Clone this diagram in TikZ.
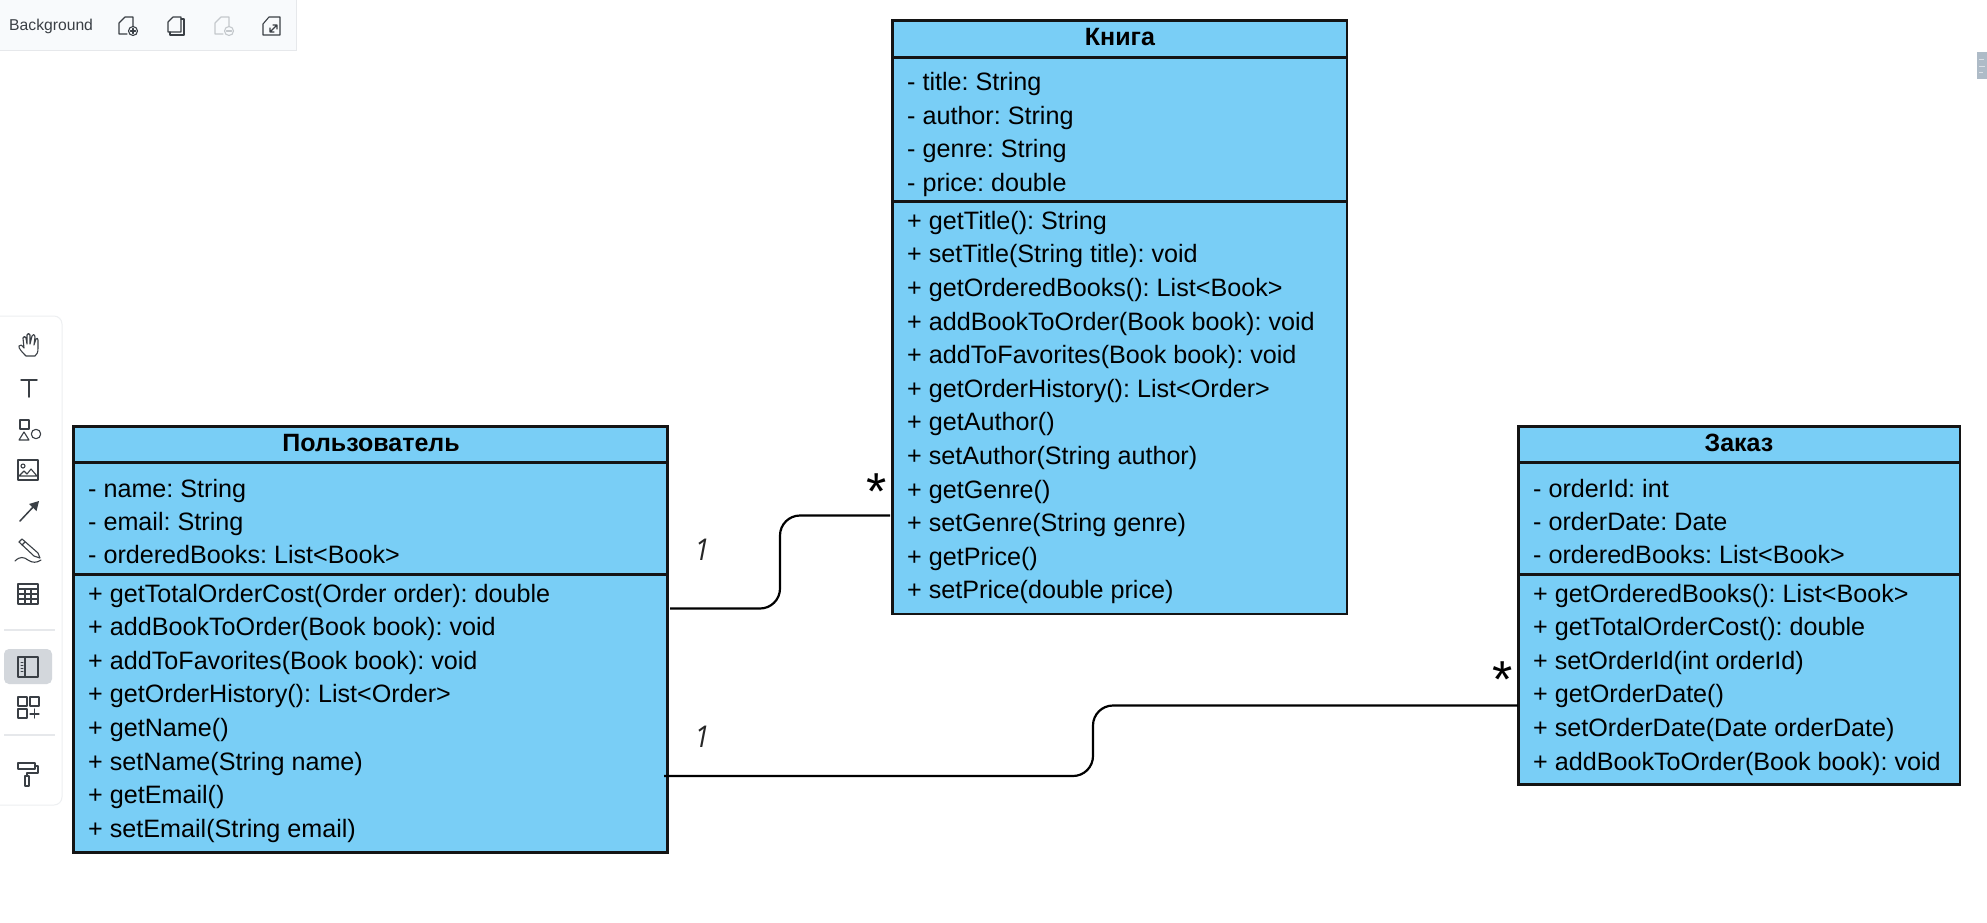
\documentclass[tikz,border=0pt]{standalone}
\usepackage{fontspec}
\setmainfont{Liberation Sans}
\newfontfamily\labelfont{Open Sans}
\frenchspacing
\definecolor{boxblue}{HTML}{79CEF6}
\definecolor{boxline}{HTML}{141414}
\definecolor{panelbg}{HTML}{F8FAFC}
\definecolor{panelline}{HTML}{E6E8EB}
\definecolor{iconcol}{HTML}{3A3F45}
\definecolor{icondim}{HTML}{C4C8CC}
\definecolor{activebg}{HTML}{D3D7DC}
\definecolor{blot}{HTML}{AEBBC7}
\tikzset{
  x=1pt,y=-1pt,
  part/.style={draw=boxline,line width=2.2pt,fill=boxblue,anchor=north west,inner sep=0pt,outer sep=0pt},
  rowtext/.style={anchor=base west,inner sep=0pt,font=\fontsize{25.15}{25}\selectfont,text=black},
  titletext/.style={anchor=base,inner sep=0pt,font=\fontsize{25}{25}\selectfont\bfseries,text=black},
  conn/.style={draw=black,line width=2.2pt,rounded corners=20pt},
  onemark/.style={anchor=center,inner sep=0pt,font=\labelfont\itshape\fontsize{30}{30}\selectfont,text=black!85,xscale=0.9},
  starmark/.style={anchor=center,inner sep=0pt,font=\fontsize{52}{52}\selectfont,text=black},
  ico/.style={draw=iconcol,line width=1.1pt,line join=round,line cap=round,fill=none},
  panel/.style={fill=panelbg,draw=panelline,line width=1pt},
  leftpanel/.style={fill=white,draw=panelline!70,line width=1pt},
}
\begin{document}
\begin{tikzpicture}
\useasboundingbox (0,0) rectangle (1987,922);
\fill[white] (0,0) rectangle (1987,922);
% top panel
\path[panel] (-3,-3) rectangle (296,50);
\node[anchor=base west,inner sep=0pt,font=\fontsize{15.7}{16}\selectfont,text=iconcol] (bg) at (9,30.5) {Background};
% page add
\begin{scope}[shift={(127,25)}]
\draw[ico] (-8,-2) -- (-2,-8) -- (6,-8) -- (6,1) (0,9) -- (-8,9) -- (-8,-2);
\draw[ico] (6,6) circle (4.5);
\draw[ico] (6,3.5) -- (6,8.5) (3.5,6) -- (8.5,6);
\end{scope}
\begin{scope}[shift={(176,25)}]
\draw[ico] (-8,-3) -- (-3,-8) -- (5,-8) -- (5,7) -- (-8,7) -- cycle;
\draw[ico] (5,-6) -- (8,-6) -- (8,10) -- (-6,10) -- (-6,7);
\end{scope}
\begin{scope}[shift={(223,25)}]
\draw[ico,draw=icondim] (-8,-2) -- (-2,-8) -- (6,-8) -- (6,1) (0,9) -- (-8,9) -- (-8,-2);
\draw[ico,draw=icondim] (6,6) circle (4.5);
\draw[ico,draw=icondim] (3.5,6) -- (8.5,6);
\end{scope}
\begin{scope}[shift={(272,26)}]
\draw[ico] (-9,-2) -- (-3,-9) -- (8,-9) -- (8,9) -- (-9,9) -- cycle;
\draw[ico] (-2,6) -- (5,-1) (1,-1) -- (5,-1) -- (5,3) (-2,2) -- (-2,6) -- (2,6);
\end{scope}
% left panel
\path[leftpanel] (-3,316) -- (54,316) arc[start angle=-90,end angle=0,radius=8] -- (62,797) arc[start angle=0,end angle=90,radius=8] -- (-3,805) -- cycle;
\draw[panelline,line width=1.2pt] (4,630) -- (55,630) (4,735) -- (55,735);
\fill[activebg,rounded corners=5pt] (4,649) rectangle (52,684);
% hand
\begin{scope}[shift={(29,345)}]
\draw[ico] (-3,11) .. controls (-6,8) and (-11,3) .. (-10,1) .. controls (-9,-1) and (-7,0) .. (-5,3) -- (-6,-7) .. controls (-6,-9) and (-3,-9) .. (-3,-7) -- (-2,-1) -- (-2,-10) .. controls (-2,-12) and (1,-12) .. (1,-10) -- (1,-1) -- (3,-9) .. controls (3,-11) and (6,-11) .. (6,-8) -- (5,0) -- (7,-6) .. controls (8,-8) and (9,-6) .. (9,-5) -- (9,3) .. controls (9,8) and (8,9) .. (6,11) -- cycle;
\end{scope}
% T
\begin{scope}[shift={(29,388)}]
\draw[ico,line width=1.5pt] (-8,-8) -- (8,-8) (0,-8) -- (0,9);
\end{scope}
% shapes
\begin{scope}[shift={(29,431)}]
\draw[ico] (-9,-11) rectangle (0,-2);
\draw[ico] (-5,1) -- (0,9) -- (-10,9) -- cycle;
\draw[ico] (7,3) circle (4.7);
\end{scope}
% image
\begin{scope}[shift={(28,470)}]
\draw[ico] (-10,-10) rectangle (10,10);
\draw[ico] (-5,-4) circle (2);
\draw[ico] (-9,6) -- (-4,1) -- (-1,4) -- (3,-1) -- (9,6) -- cycle;
\end{scope}
% arrow
\begin{scope}[shift={(29,511)}]
\draw[ico,line width=1.5pt] (-9,10) -- (6,-6);
\fill[iconcol] (10,-10) -- (7.5,0) -- (0,-7) -- cycle;
\end{scope}
% pencil
\begin{scope}[shift={(28,552)}]
\draw[ico] (-9,-10) -- (-6,-13) -- (10,1) -- (12,6) -- (6,4) -- cycle;
\draw[ico] (-6,-7) -- (-3,-10);
\draw[ico] (-13,9) .. controls (-8,4) and (-4,5) .. (0,8) .. controls (4,11) and (9,11) .. (13,8);
\end{scope}
% table
\begin{scope}[shift={(28,594)}]
\draw[ico] (-10,-10) rectangle (10,10);
\draw[ico] (-10,-5) -- (10,-5) (-10,0) -- (10,0) (-10,5) -- (10,5) (-3,-5) -- (-3,10) (3,-5) -- (3,10);
\end{scope}
% sidebar
\begin{scope}[shift={(28,667)}]
\draw[ico] (-10,-10) rectangle (10,10);
\draw[ico] (-3,-10) -- (-3,10);
\draw[ico,line width=1pt] (-7,-5) -- (-5,-5) (-7,-2) -- (-5,-2) (-7,1) -- (-5,1) (-7,4) -- (-5,4);
\end{scope}
% grid plus
\begin{scope}[shift={(28,707)}]
\draw[ico] (-10,-10) rectangle (-1,-1);
\draw[ico] (2,-10) rectangle (11,-1);
\draw[ico] (-10,2) rectangle (-1,11);
\draw[ico] (2,7) -- (11,7) (6.5,2) -- (6.5,11);
\end{scope}
% roller
\begin{scope}[shift={(28,772)}]
\draw[ico] (-10,-9) rectangle (7,-3);
\draw[ico] (7,-6) -- (10,-6) -- (10,1) -- (-1,1) -- (-1,4);
\draw[ico] (-3,4) rectangle (1,14);
\end{scope}
% right edge blot
\fill[blot] (1977,52) rectangle (1987,79);
\draw[blot!45,line width=1pt] (1979,59) -- (1984,59) (1979,66) -- (1985,66) (1979,72) -- (1983,72);
% user
\node[part,minimum width=594pt,minimum height=36pt] (userT) at (73.5,426.5) {};
\node[part,minimum width=594pt,minimum height=112pt] (userA) at (userT.south west) {};
\node[part,minimum width=594pt,minimum height=278pt] (userM) at (userA.south west) {};
\node[titletext] (tu) at (371,451) {Пользователь};
\node[rowtext] (u1) at (88,497) {- name: String};
\node[rowtext] (u2) at (88,530) {- email: String};
\node[rowtext] (u3) at (88,563.5) {- orderedBooks: List<Book>};
\node[rowtext] (u4) at (88,602) {+ getTotalOrderCost(Order order): double};
\node[rowtext] (u5) at (88,635) {+ addBookToOrder(Book book): void};
\node[rowtext] (u6) at (88,669) {+ addToFavorites(Book book): void};
\node[rowtext] (u7) at (88,702) {+ getOrderHistory(): List<Order>};
\node[rowtext] (u8) at (88,736) {+ getName()};
\node[rowtext] (u9) at (88,770) {+ setName(String name)};
\node[rowtext] (u10) at (88,803.5) {+ getEmail()};
\node[rowtext] (u11) at (88,837.5) {+ setEmail(String email)};
% book
\node[part,minimum width=454.5pt,minimum height=37pt] (bookT) at (892.5,20.5) {};
\node[part,minimum width=454.5pt,minimum height=144pt] (bookA) at (bookT.south west) {};
\node[part,minimum width=454.5pt,minimum height=412.5pt] (bookM) at (bookA.south west) {};
\node[titletext] (tb) at (1120,45.5) {Книга};
\node[rowtext] (b1) at (907,90.5) {- title: String};
\node[rowtext] (b2) at (907,124) {- author: String};
\node[rowtext] (b3) at (907,157.5) {- genre: String};
\node[rowtext] (b4) at (907,191) {- price: double};
\node[rowtext] (b5) at (907,229.5) {+ getTitle(): String};
\node[rowtext] (b6) at (907,262.5) {+ setTitle(String title): void};
\node[rowtext] (b7) at (907,296) {+ getOrderedBooks(): List<Book>};
\node[rowtext] (b8) at (907,330) {+ addBookToOrder(Book book): void};
\node[rowtext] (b9) at (907,363) {+ addToFavorites(Book book): void};
\node[rowtext] (b10) at (907,397) {+ getOrderHistory(): List<Order>};
\node[rowtext] (b11) at (907,430.5) {+ getAuthor()};
\node[rowtext] (b12) at (907,464) {+ setAuthor(String author)};
\node[rowtext] (b13) at (907,498) {+ getGenre()};
\node[rowtext] (b14) at (907,531.5) {+ setGenre(String genre)};
\node[rowtext] (b15) at (907,565) {+ getPrice()};
\node[rowtext] (b16) at (907,598.5) {+ setPrice(double price)};
% order
\node[part,minimum width=441.5pt,minimum height=36pt] (orderT) at (1518.5,426.5) {};
\node[part,minimum width=441.5pt,minimum height=112pt] (orderA) at (orderT.south west) {};
\node[part,minimum width=441.5pt,minimum height=210pt] (orderM) at (orderA.south west) {};
\node[titletext] (to) at (1739,451) {Заказ};
\node[rowtext] (o1) at (1533,497) {- orderId: int};
\node[rowtext] (o2) at (1533,530) {- orderDate: Date};
\node[rowtext] (o3) at (1533,563.5) {- orderedBooks: List<Book>};
\node[rowtext] (o4) at (1533,602) {+ getOrderedBooks(): List<Book>};
\node[rowtext] (o5) at (1533,635) {+ getTotalOrderCost(): double};
\node[rowtext] (o6) at (1533,669) {+ setOrderId(int orderId)};
\node[rowtext] (o7) at (1533,702) {+ getOrderDate()};
\node[rowtext] (o8) at (1533,736) {+ setOrderDate(Date orderDate)};
\node[rowtext] (o9) at (1533,770) {+ addBookToOrder(Book book): void};
% connectors
\coordinate (c1a) at (670,608.5);
\coordinate (c1b) at (890,515.5);
\coordinate (c2a) at (664,776);
\coordinate (c2b) at (1518,705.5);
\draw[conn] (c1a) -- (c1a -| 780,0) -- (c1b -| 780,0) -- (c1b);
\draw[conn] (c2a) -- (c2a -| 1093,0) -- (c2b -| 1093,0) -- (c2b);
% labels
\node[onemark] (m1) at (702,549.5) {1};
\node[onemark] (m2) at (702,736.5) {1};
\node[starmark] (s1) at (876.5,491.5) {*};
\node[starmark] (s2) at (1503,679.5) {*};
\end{tikzpicture}
\end{document}
